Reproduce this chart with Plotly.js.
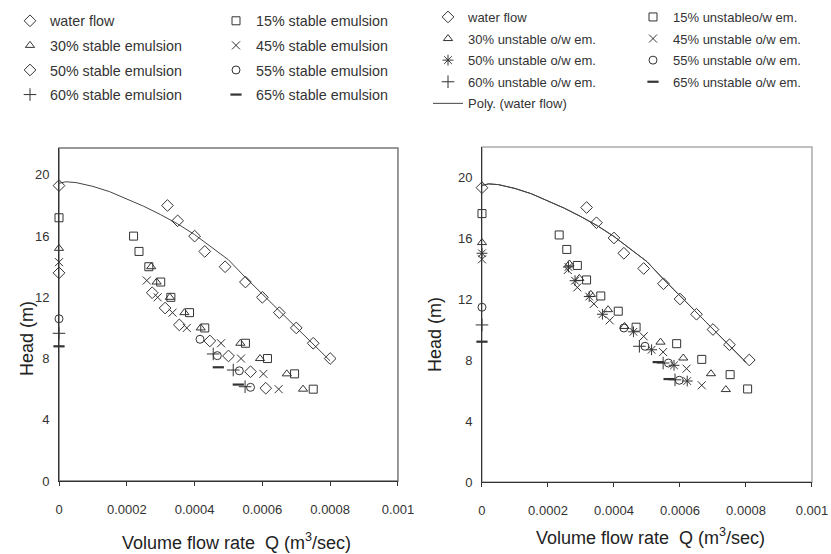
<!DOCTYPE html>
<html><head><meta charset="utf-8">
<script src="https://cdn.plot.ly/plotly-3.0.1.min.js"></script>
<style>html,body{margin:0;padding:0;background:#fff}#c{width:831px;height:554px}</style>
</head><body><div id="c"></div>
<script>
// ---------- LEFT PANEL: stable emulsions ----------
const L_water_Q = [0, 0.00032, 0.00035, 0.0004, 0.00043, 0.00049, 0.00055, 0.0006, 0.00065, 0.0007, 0.00075, 0.0008];
const L_water_H = [19.3, 18, 17, 16, 15, 14, 13, 12, 11, 10, 9, 8];
const L_15_Q = [0, 0.00022, 0.000236, 0.000265, 0.0003, 0.00033, 0.000385, 0.00043, 0.00055, 0.000615, 0.000695, 0.00075];
const L_15_H = [17.2, 16, 15, 14, 13, 12, 11, 10, 9, 8, 7, 6];
const L_30_Q = [0, 0.000272, 0.000288, 0.000327, 0.00037, 0.000418, 0.000535, 0.000593, 0.000672, 0.00072];
const L_30_H = [15.2, 14, 13, 12, 11, 10, 9, 8, 7, 6];
const L_45_Q = [0, 0.000259, 0.000291, 0.000335, 0.000377, 0.000478, 0.000537, 0.000603, 0.000648];
const L_45_H = [14.3, 13.1, 12, 11, 10, 9, 8, 7, 6];
const L_50_Q = [0, 0.000275, 0.000313, 0.000355, 0.000445, 0.0005, 0.000565, 0.00061];
const L_50_H = [13.6, 12.3, 11.3, 10.2, 9.15, 8.17, 7.14, 6.06];
const L_55_Q = [0, 0.000416, 0.000467, 0.000532, 0.000565];
const L_55_H = [10.6, 9.26, 8.19, 7.2, 6.12];
const L_60_Q = [0, 0.000455, 0.000514, 0.000549];
const L_60_H = [9.65, 8.3, 7.25, 6.16];
const L_65_Q = [0, 0.00047, 0.000529];
const L_65_H = [8.8, 7.43, 6.3];

// ---------- RIGHT PANEL: unstable o/w emulsions ----------
const R_water_Q = [0, 0.000317, 0.000347, 0.0004, 0.00043, 0.00049, 0.00055, 0.0006, 0.00065, 0.0007, 0.00075, 0.00081];
const R_water_H = [19.3, 18, 17, 16, 15, 14, 13, 12, 11, 10, 9, 8];
const R_15_Q = [0, 0.000234, 0.000257, 0.000289, 0.000317, 0.00036, 0.000413, 0.000467, 0.00059, 0.000666, 0.000752, 0.000805];
const R_15_H = [17.6, 16.2, 15.25, 14.2, 13.25, 12.2, 11.2, 10.15, 9.07, 8.04, 7.04, 6.1];
const R_30_Q = [0, 0.000265, 0.000295, 0.00033, 0.000382, 0.000432, 0.000541, 0.00061, 0.000694, 0.000739];
const R_30_H = [15.7, 14.3, 13.35, 12.3, 11.3, 10.2, 9.17, 8.13, 7.1, 6.06];
const R_45_Q = [0, 0.00026, 0.000289, 0.000339, 0.000387, 0.00049, 0.000549, 0.00062, 0.000666];
const R_45_H = [14.6, 13.9, 12.76, 11.68, 10.6, 9.55, 8.52, 7.43, 6.34];
const R_50_Q = [0, 0.000262, 0.000282, 0.000325, 0.000365, 0.000459, 0.000514, 0.000582, 0.000622];
const R_50_H = [15.0, 14.1, 13.2, 12.16, 11.0, 9.85, 8.67, 7.65, 6.62];
const R_55_Q = [0, 0.00043, 0.000494, 0.000565, 0.000598];
const R_55_H = [11.46, 10.1, 8.9, 7.8, 6.67];
const R_60_Q = [0, 0.000477, 0.000549, 0.000585];
const R_60_H = [10.3, 8.9, 7.8, 6.7];
const R_65_Q = [0, 0.000534, 0.000567];
const R_65_H = [9.2, 7.86, 6.75];

// ---------- polynomial trend line of water flow ----------
const poly_Q = [0, 0.00002, 0.00005, 0.0001, 0.00015, 0.0002, 0.00025, 0.0003, 0.00035, 0.0004, 0.00045, 0.0005, 0.00055, 0.0006, 0.00065, 0.0007, 0.00075, 0.0008];
const poly_H = [19.45, 19.55, 19.5, 19.25, 18.9, 18.45, 17.95, 17.4, 16.8, 16.1, 15.3, 14.45, 13.3, 12.2, 11.1, 10.0, 8.9, 7.85];

// ---------- labels ----------
const L_names = ['water flow', '15% stable emulsion', '30% stable emulsion', '45% stable emulsion',
                 '50% stable emulsion', '55% stable emulsion', '60% stable emulsion', '65% stable emulsion'];
const R_names = ['water flow', '15% unstableo/w em.', '30% unstable o/w em.', '45% unstable o/w em.',
                 '50% unstable o/w em.', '55% unstable o/w em.', '60% unstable o/w em.', '65% unstable o/w em.'];
const polyName = 'Poly. (water flow)';
const xTickVals = [0, 0.0002, 0.0004, 0.0006, 0.0008, 0.001];
const xTickText = ['0', '0.0002', '0.0004', '0.0006', '0.0008', '0.001'];
const yTickVals = [0, 4, 8, 12, 16, 20];
const xTitle = 'Volume flow rate  Q (m<sup>3</sup>/sec)';
const yTitle = 'Head (m)';

const INK = '#333';
const FONT = 'Liberation Sans, Arial, sans-serif';
const L_sym = ['diamond-open', 'square-open', 'triangle-up-open', 'x-thin-open', 'diamond-open', 'circle-open', 'cross-thin-open', 'line-ew-open'];
const R_sym = ['diamond-open', 'square-open', 'triangle-up-open', 'x-thin-open', 'asterisk-open', 'circle-open', 'cross-thin-open', 'line-ew-open'];
const sizes = [9, 8, 8, 8, 9, 8, 9, 8];
const L_data = [[L_water_Q, L_water_H], [L_15_Q, L_15_H], [L_30_Q, L_30_H], [L_45_Q, L_45_H], [L_50_Q, L_50_H], [L_55_Q, L_55_H], [L_60_Q, L_60_H], [L_65_Q, L_65_H]];
const R_data = [[R_water_Q, R_water_H], [R_15_Q, R_15_H], [R_30_Q, R_30_H], [R_45_Q, R_45_H], [R_50_Q, R_50_H], [R_55_Q, R_55_H], [R_60_Q, R_60_H], [R_65_Q, R_65_H]];

const traces = [];
traces.push({x: poly_Q, y: poly_H, xaxis: 'x', yaxis: 'y', mode: 'lines', line: {color: '#444', width: 1}, showlegend: false, hoverinfo: 'skip'});
traces.push({x: poly_Q, y: poly_H, xaxis: 'x2', yaxis: 'y2', mode: 'lines', line: {color: '#444', width: 1}, showlegend: false, hoverinfo: 'skip'});

function mk(d, name, sym, size, ax, ay, leg, grp) {
  return {x: d[0], y: d[1], xaxis: ax, yaxis: ay, name: name, mode: 'markers', cliponaxis: false,
    legend: leg, legendgroup: grp,
    marker: {symbol: sym, size: size, color: INK, line: {color: INK, width: sym === 'line-ew-open' ? 2.2 : 1}}};
}
for (let i = 0; i < 8; i++) {
  const leg = (i % 2 === 0) ? 'legend' : 'legend2';
  traces.push(mk(L_data[i], L_names[i], L_sym[i], sizes[i], 'x', 'y', leg, 'L' + i));
}
for (let i = 0; i < 8; i++) {
  const leg = (i % 2 === 0) ? 'legend3' : 'legend4';
  traces.push(mk(R_data[i], R_names[i], R_sym[i], sizes[i], 'x2', 'y2', leg, 'R' + i));
}
// legend entry for the poly line (drawn in right legend)
traces.push({x: poly_Q, y: poly_H, xaxis: 'x2', yaxis: 'y2', name: polyName, mode: 'lines', legend: 'legend3', legendgroup: 'RP',
  line: {color: '#444', width: 1}, hoverinfo: 'skip'});

const tickFont = {family: FONT, size: 13, color: INK};
function xa(domain) {
  return {domain: domain, range: [0, 0.001], tickvals: xTickVals, ticktext: xTickText, ticks: 'outside', ticklen: 4,
    tickcolor: INK, showline: true, linecolor: INK, linewidth: 1, showgrid: false, zeroline: false,
    tickfont: tickFont, ticklabelstandoff: 12, fixedrange: true};
}
function ya(domain, top, anchor) {
  return {domain: domain, range: [0, top], tickvals: yTickVals, ticks: '', showline: true, linecolor: INK, linewidth: 1,
    showgrid: false, zeroline: false, tickfont: tickFont, ticklabelstandoff: 6, anchor: anchor, fixedrange: true};
}
function leg(x, y, size, gap) {
  return {x: x, y: y, xanchor: 'left', yanchor: 'top', orientation: 'v', traceorder: 'grouped', tracegroupgap: gap,
    bgcolor: 'rgba(0,0,0,0)', borderwidth: 0, font: {family: FONT, size: size, color: INK}, itemclick: false, itemdoubleclick: false};
}
const titleFont = {family: FONT, size: 18, color: '#222'};

const layout = {
  width: 831, height: 554, margin: {l: 0, r: 0, t: 0, b: 0}, paper_bgcolor: '#fff', plot_bgcolor: '#fff',
  font: {family: FONT, color: INK},
  xaxis: xa([0.0710, 0.4789]),
  yaxis: ya([0.1318, 0.7329], 21.76, 'x'),
  xaxis2: Object.assign(xa([0.5800, 0.9771]), {anchor: 'y2'}),
  yaxis2: ya([0.1300, 0.7347], 21.97, 'x2'),
  showlegend: true,
  legend: leg(10 / 831, 1 - 5 / 554, 14.3, 3),
  legend2: leg(216 / 831, 1 - 5 / 554, 14.3, 3),
  legend3: leg(428 / 831, 1 - 2 / 554, 13, 1.7),
  legend4: leg(633 / 831, 1 - 2 / 554, 13, 1.7),
  shapes: [
    {type: 'rect', xref: 'x domain', yref: 'y domain', x0: 0, x1: 1, y0: 0, y1: 1, layer: 'below', line: {color: '#777', width: 1.5}},
    {type: 'rect', xref: 'x2 domain', yref: 'y2 domain', x0: 0, x1: 1, y0: 0, y1: 1, layer: 'below', line: {color: '#aaa', width: 1.5}}
  ],
  annotations: [
    {text: xTitle, xref: 'paper', yref: 'paper', x: 236 / 831, y: 1 - 541 / 554, xanchor: 'center', yanchor: 'middle', showarrow: false, font: titleFont},
    {text: xTitle, xref: 'paper', yref: 'paper', x: 650 / 831, y: 1 - 536 / 554, xanchor: 'center', yanchor: 'middle', showarrow: false, font: titleFont},
    {text: yTitle, xref: 'paper', yref: 'paper', x: 27 / 831, y: 1 - 338 / 554, xanchor: 'center', yanchor: 'middle', textangle: -90, showarrow: false, font: titleFont},
    {text: yTitle, xref: 'paper', yref: 'paper', x: 435 / 831, y: 1 - 335 / 554, xanchor: 'center', yanchor: 'middle', textangle: -90, showarrow: false, font: titleFont}
  ]
};
Plotly.newPlot('c', traces, layout, {staticPlot: true, displayModeBar: false});
</script></body></html>
